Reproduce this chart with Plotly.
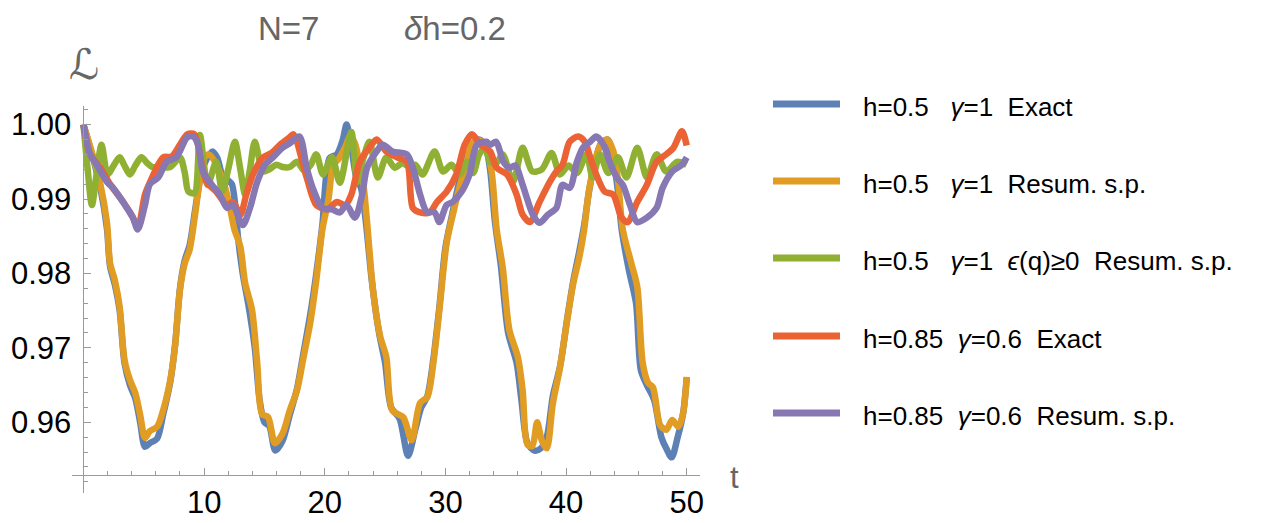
import plotly.graph_objects as go

# ---------------- data ----------------
t_blue = [0, 0.8, 1.4, 1.95, 2.2, 2.6, 3.0, 3.4, 3.85, 4.3, 4.7, 5.1, 5.5, 6.1, 6.6, 7.2, 7.6, 8.0,
          8.4, 8.8, 9.25, 9.65, 10.1, 10.7, 11.1, 11.5, 12.0, 12.3, 12.55, 12.8, 13.2, 13.7, 14.2,
          14.6, 15.0, 15.4, 15.9, 16.5, 17.1, 17.7, 18.2, 18.8, 19.3, 19.8, 20.4, 21.0, 21.5, 21.8,
          22.2, 22.6, 23.0, 23.4, 23.9, 24.5, 25.0, 25.5, 26.2, 26.9, 27.5, 28.0, 28.5, 29.0, 29.5,
          30.0, 30.5, 31.1, 31.6, 32.2, 32.8, 33.3, 33.7, 34.1, 34.6, 35.2, 35.9, 36.3, 36.8, 37.4,
          37.9, 38.4, 38.9, 39.5, 40.1, 40.6, 41.1, 41.5, 41.9, 42.4, 42.9, 43.45, 43.9, 44.3, 44.6,
          45.2, 45.8, 46.2, 46.7, 47.3, 47.9, 48.3, 48.75, 49.25, 49.7, 50.0]
v_blue = [1.0, 0.9955, 0.9915, 0.986, 0.981, 0.9785, 0.975, 0.968, 0.965, 0.9632, 0.960, 0.9567,
          0.9572, 0.9578, 0.961, 0.9655, 0.9705, 0.978, 0.9818, 0.9838, 0.9885, 0.9925, 0.995,
          0.9964, 0.9955, 0.9933, 0.9925, 0.992, 0.9896, 0.985, 0.980, 0.9755, 0.970, 0.963, 0.960,
          0.9595, 0.9562, 0.9575, 0.961, 0.9645, 0.969, 0.9745, 0.980, 0.9865, 0.9955, 0.996, 0.998,
          1.000, 0.997, 0.993, 0.9915, 0.987, 0.979, 0.972, 0.968, 0.962, 0.9605, 0.9555, 0.959,
          0.962, 0.9635, 0.9685, 0.9755, 0.9835, 0.9875, 0.992, 0.995, 0.997, 0.998, 0.9972, 0.994,
          0.987, 0.981, 0.972, 0.968, 0.963, 0.9572, 0.9562, 0.9565, 0.958, 0.9635, 0.9675, 0.974,
          0.979, 0.983, 0.9865, 0.991, 0.995, 0.9975, 0.998, 0.9955, 0.991, 0.986, 0.9805, 0.976,
          0.967, 0.965, 0.963, 0.958, 0.9565, 0.9553, 0.958, 0.9612, 0.966]

t_orange = [0, 0.8, 1.4, 1.95, 2.2, 2.6, 3.0, 3.4, 3.85, 4.3, 4.7, 5.1, 5.5, 6.1, 6.6, 7.2, 7.6, 8.0,
            8.4, 8.8, 9.25, 9.65, 10.0, 10.4, 10.9, 11.6, 12.1, 12.5, 13.0, 13.4, 13.96, 14.4, 14.8,
            15.3, 15.87, 16.5, 17.1, 17.7, 18.2, 18.8, 19.3, 19.8, 20.3, 20.7, 21.2, 21.7, 22.1, 22.5,
            22.9, 23.2, 23.5, 24.0, 24.6, 25.1, 25.6, 26.5, 27.2, 27.9, 28.5, 29.0, 29.5, 30.1, 30.6,
            31.2, 31.7, 32.2, 32.8, 33.3, 33.8, 34.25, 34.75, 35.3, 36.0, 36.4, 36.8, 37.2, 37.6,
            38.0, 38.4, 38.9, 39.5, 40.1, 40.6, 41.1, 41.5, 41.9, 42.4, 42.9, 43.4, 43.9, 44.3, 44.7,
            45.4, 45.9, 46.35, 46.8, 47.2, 47.8, 48.3, 48.8, 49.3, 49.7, 50.0]
v_orange = [1.0, 0.9957, 0.992, 0.9868, 0.9814, 0.9791, 0.9755, 0.9684, 0.9657, 0.9639, 0.961,
            0.9579, 0.9588, 0.9594, 0.9616, 0.9657, 0.9704, 0.9778, 0.9814, 0.9832, 0.9879, 0.9926,
            0.9955, 0.996, 0.995, 0.9923, 0.9892, 0.986, 0.9836, 0.9787, 0.9752, 0.968, 0.9611,
            0.9607, 0.9572, 0.9585, 0.9616, 0.9643, 0.9684, 0.9734, 0.9791, 0.9859, 0.9899, 0.9945,
            0.9955, 0.997, 0.9984, 0.9975, 0.9945, 0.992, 0.987, 0.9778, 0.9715, 0.9688, 0.9616,
            0.9607, 0.9576, 0.9626, 0.9634, 0.968, 0.9751, 0.9841, 0.9878, 0.9918, 0.9945, 0.9975,
            0.9979, 0.997, 0.994, 0.9859, 0.9808, 0.9724, 0.9688, 0.9643, 0.957, 0.9568, 0.960,
            0.9575, 0.9565, 0.9625, 0.9674, 0.9738, 0.9787, 0.9822, 0.9859, 0.9912, 0.995, 0.9975,
            0.998, 0.9965, 0.9925, 0.9859, 0.9814, 0.9782, 0.968, 0.9653, 0.9647, 0.9596, 0.959,
            0.9603, 0.9594, 0.9612, 0.9661]

t_green = [0, 0.35, 0.7, 1.1, 1.5, 2.0, 2.5, 3.0, 3.4, 3.85, 4.3, 4.8, 5.3, 5.7, 6.5, 7.2, 8.0, 8.4,
           8.7, 9.2, 9.65, 10.3, 11.0, 11.5, 12.0, 12.55, 13.0, 13.4, 13.8, 14.2, 14.9, 15.4, 16.0,
           16.5, 17.1, 17.7, 18.3, 18.8, 19.3, 19.85, 20.6, 21.25, 22.2, 22.7, 23.2, 23.7, 24.4,
           25.1, 25.8, 26.4, 27.0, 27.5, 28.1, 29.1, 29.8, 30.5, 31.2, 31.8, 32.3, 32.8, 33.3, 33.7,
           34.2, 34.75, 35.6, 36.4, 37.2, 38.0, 38.8, 39.5, 40.2, 40.9, 41.7, 42.2, 42.8, 43.5, 44.3,
           45.0, 45.9, 46.7, 47.5, 48.3, 49.2, 50.0]
v_green = [1.0, 0.994, 0.9892, 0.9935, 0.9973, 0.9933, 0.9945, 0.9956, 0.9945, 0.9933, 0.9945,
           0.9956, 0.9948, 0.9943, 0.9943, 0.9943, 0.9956, 0.9935, 0.991, 0.9908, 0.9986, 0.9919,
           0.995, 0.991, 0.994, 0.9977, 0.994, 0.9906, 0.994, 0.9977, 0.9937, 0.994, 0.9946, 0.9943,
           0.9943, 0.995, 0.9938, 0.9945, 0.996, 0.9933, 0.9956, 0.9922, 0.999, 0.9923, 0.9955,
           0.9977, 0.9929, 0.9956, 0.9942, 0.9948, 0.9944, 0.9946, 0.9933, 0.9964, 0.9937, 0.9946,
           0.9933, 0.995, 0.9935, 0.996, 0.9969, 0.995, 0.9948, 0.996, 0.9923, 0.9969, 0.9937, 0.994,
           0.9962, 0.9933, 0.9945, 0.9935, 0.996, 0.9929, 0.996, 0.9935, 0.9956, 0.9929, 0.9969,
           0.9929, 0.996, 0.9937, 0.995, 0.9946]

t_red = [0, 0.55, 1.4, 2.2, 3.3, 4.1, 4.5, 5.1, 5.5, 6.6, 7.3, 8.0, 8.6, 9.2, 9.65, 10.2, 11.0, 11.9,
         12.4, 13.0, 13.5, 14.05, 14.9, 15.6, 16.3, 17.1, 17.4, 18.5, 19.3, 20.2, 21.0, 21.7, 22.2,
         22.9, 23.7, 24.3, 25.1, 26.0, 26.8, 27.3, 27.9, 28.7, 29.3, 30.1, 30.9, 31.6, 32.2, 32.9,
         33.7, 34.25, 35.1, 35.9, 36.4, 37.0, 37.8, 38.65, 39.2, 39.7, 40.3, 41.0, 41.55, 42.0,
         42.5, 43.2, 43.9, 44.6, 45.1, 45.9, 46.7, 47.5, 48.3, 48.9, 49.6, 50.0]
v_red = [1.0, 0.996, 0.9942, 0.992, 0.9896, 0.9875, 0.9861, 0.9906, 0.9922, 0.9956, 0.9957, 0.9973,
         0.9987, 0.9987, 0.996, 0.9923, 0.991, 0.9892, 0.9896, 0.9879, 0.9906, 0.9933, 0.9956,
         0.9962, 0.9973, 0.9983, 0.9987, 0.9929, 0.9892, 0.9886, 0.9896, 0.9892, 0.9906, 0.995,
         0.9969, 0.998, 0.9964, 0.9956, 0.995, 0.9888, 0.9882, 0.9882, 0.9896, 0.991, 0.9933,
         0.9973, 0.9987, 0.9973, 0.9964, 0.9942, 0.9933, 0.9906, 0.9879, 0.9869, 0.9896, 0.9923,
         0.9937, 0.9946, 0.9977, 0.9984, 0.9977, 0.9956, 0.9933, 0.991, 0.9906, 0.9875, 0.9869,
         0.9896, 0.9919, 0.995, 0.996, 0.9969, 0.9991, 0.9972]

t_purple = [0, 0.55, 1.1, 1.95, 2.45, 3.6, 4.1, 4.5, 5.1, 5.5, 6.2, 6.9, 7.7, 8.6, 9.1, 9.5, 9.9,
            10.6, 11.3, 11.9, 12.4, 13.2, 13.8, 14.4, 15.05, 15.7, 16.5, 17.1, 17.9, 18.5, 19.0,
            19.8, 20.6, 21.25, 21.8, 22.5, 23.1, 23.5, 24.3, 24.8, 25.6, 26.8, 27.3, 27.9, 28.45,
            29.1, 29.5, 30.1, 30.6, 31.35, 32.0, 32.6, 33.4, 33.7, 34.2, 34.8, 35.3, 35.8, 36.4,
            37.25, 37.8, 38.5, 39.2, 39.7, 40.3, 40.9, 41.4, 42.0, 42.5, 43.1, 43.6, 44.2, 44.7,
            45.3, 45.9, 46.7, 47.5, 48.0, 48.8, 49.6, 50.0]
v_purple = [1.0, 0.996, 0.9946, 0.9923, 0.9915, 0.9888, 0.9875, 0.9859, 0.9892, 0.992, 0.9929,
            0.995, 0.9956, 0.9983, 0.9984, 0.9973, 0.9937, 0.992, 0.9906, 0.9888, 0.9892, 0.9865,
            0.9888, 0.9923, 0.9946, 0.9956, 0.9969, 0.9975, 0.9984, 0.9942, 0.9915, 0.9888, 0.9886,
            0.9882, 0.9892, 0.9875, 0.9906, 0.9942, 0.9964, 0.9973, 0.9964, 0.996, 0.9942, 0.9906,
            0.9883, 0.9882, 0.9869, 0.9892, 0.9896, 0.991, 0.9933, 0.9973, 0.9977, 0.9973, 0.9977,
            0.995, 0.9942, 0.9945, 0.9919, 0.9879, 0.9868, 0.9879, 0.9888, 0.9919, 0.9915, 0.995,
            0.9969, 0.9977, 0.9984, 0.9973, 0.995, 0.9929, 0.9919, 0.9892, 0.9869, 0.9875, 0.9888,
            0.9915, 0.9937, 0.9946, 0.9956]

series_names = [
    "h=0.5\u00a0\u00a0\u00a0<i>γ</i>=1\u00a0\u00a0Exact",
    "h=0.5\u00a0\u00a0\u00a0<i>γ</i>=1\u00a0\u00a0Resum. s.p.",
    "h=0.5\u00a0\u00a0\u00a0<i>γ</i>=1\u00a0\u00a0<i>ϵ</i>(q)≥0\u00a0\u00a0Resum. s.p.",
    "h=0.85\u00a0\u00a0<i>γ</i>=0.6\u00a0\u00a0Exact",
    "h=0.85\u00a0\u00a0<i>γ</i>=0.6\u00a0\u00a0Resum. s.p.",
]
series_colors = ["#5E81B5", "#E19C24", "#8FB032", "#EB6235", "#8778B3"]
x_ticks = [10, 20, 30, 40, 50]
y_ticks = [0.96, 0.97, 0.98, 0.99, 1.00]

# ---------------- figure ----------------
OFF = 8                      # page body margin of the html page
WIN_W, WIN_H = 1263, 523
W, H = WIN_W - OFF, WIN_H - OFF
# plot area in window pixels: x 72..700, y 106..493
PX0, PX1, PY0, PY1 = 72, 700, 106, 493
ML, MR = PX0 - OFF, W - (PX1 - OFF)
MT, MB = PY0 - OFF, H - (PY1 - OFF)
X_RANGE = [-0.95, 51.1]
Y_RANGE = [0.9505, 1.0025]
X_AXIS_AT = 0.9529   # y value where the t axis crosses
Y_AXIS_AT = 0.0      # t value where the L axis crosses

pw, ph = PX1 - PX0, PY1 - PY0


def px_x(px):
    return (px - PX0) / pw


def px_y(py):
    return (PY1 - py) / ph


fig = go.Figure()
data = [(t_blue, v_blue), (t_orange, v_orange), (t_green, v_green),
        (t_red, v_red), (t_purple, v_purple)]
for (tt, vv), name, col in zip(data, series_names, series_colors):
    fig.add_trace(go.Scatter(x=tt, y=vv, mode="lines", name=name,
                             line=dict(color=col, width=6.5, shape="spline", smoothing=0.8),
                             showlegend=False))

axis_col = "#9a9a9a"
fig.update_layout(
    width=W, height=H,
    margin=dict(l=ML, r=MR, t=MT, b=MB, autoexpand=False),
    paper_bgcolor="white", plot_bgcolor="white",
    font=dict(family="Liberation Sans, Arial, sans-serif", color="black"),
    xaxis=dict(range=X_RANGE, anchor="free",
               position=(X_AXIS_AT - Y_RANGE[0]) / (Y_RANGE[1] - Y_RANGE[0]),
               showgrid=False, zeroline=False, showline=True, linecolor=axis_col, linewidth=1,
               tickvals=x_ticks, ticks="inside", ticklen=7, tickcolor=axis_col, tickwidth=1,
               tickfont=dict(size=31, color="black"),
               minor=dict(dtick=2, tick0=0, ticks="inside", ticklen=4, tickcolor=axis_col),
               automargin=False),
    yaxis=dict(range=Y_RANGE, anchor="free",
               position=(Y_AXIS_AT - X_RANGE[0]) / (X_RANGE[1] - X_RANGE[0]),
               showgrid=False, zeroline=False, showline=True, linecolor=axis_col, linewidth=1,
               tickvals=y_ticks, tickformat=".2f", ticks="inside", ticklen=7,
               tickcolor=axis_col, tickwidth=1, tickfont=dict(size=31, color="black"),
               ticklabelstandoff=6,
               minor=dict(dtick=0.002, tick0=0.96, ticks="inside", ticklen=4, tickcolor=axis_col),
               automargin=False),
)

gray = "#666666"
annotations = [
    dict(text="N=7", x=px_x(288), y=px_y(29), font=dict(size=33, color=gray)),
    dict(text="<i>δ</i>h=0.2", x=px_x(455), y=px_y(29), font=dict(size=33, color=gray)),
    dict(text="ℒ", x=px_x(84), y=px_y(64), font=dict(size=42, color=gray,
                                                      family="DejaVu Sans, sans-serif")),
    dict(text="t", x=px_x(734), y=px_y(477), font=dict(size=31, color=gray)),
]
for a in annotations:
    a.update(xref="paper", yref="paper", showarrow=False, xanchor="center", yanchor="middle")

# manual legend (long line samples like the reference)
row_y = [104, 181, 258, 336, 413]
shapes = []
for name, col, ry in zip(series_names, series_colors, row_y):
    shapes.append(dict(type="line", xref="paper", yref="paper",
                       x0=px_x(773), x1=px_x(840), y0=px_y(ry), y1=px_y(ry),
                       line=dict(color=col, width=7)))
    annotations.append(dict(text=name, xref="paper", yref="paper", x=px_x(861), y=px_y(ry + 3),
                            xanchor="left", yanchor="middle", showarrow=False,
                            font=dict(size=26, color="black")))

fig.update_layout(annotations=annotations, shapes=shapes)
fig.write_html("out.html")
